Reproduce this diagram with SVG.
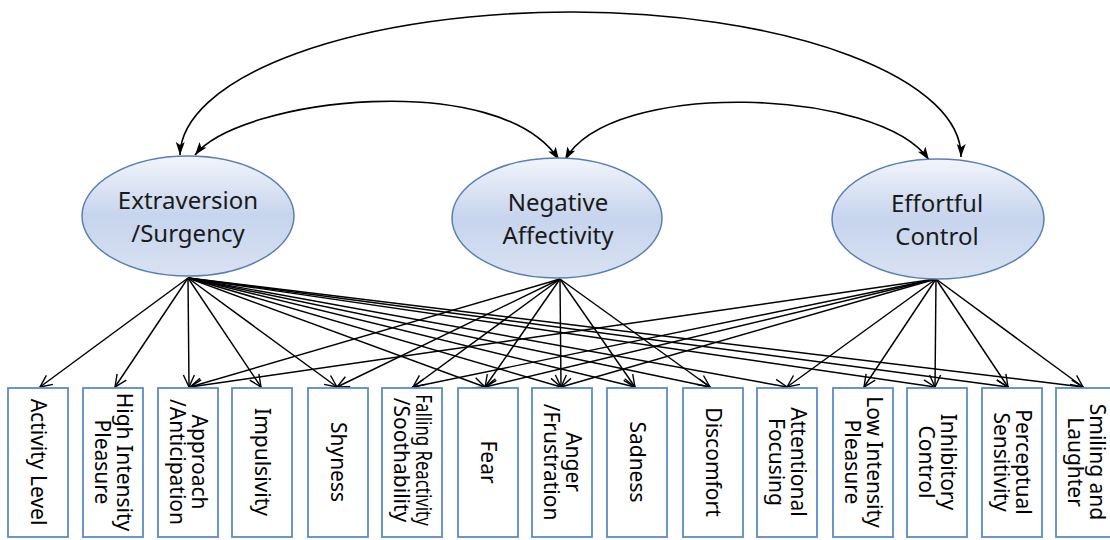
<svg xmlns="http://www.w3.org/2000/svg" width="1110" height="540" viewBox="0 0 1110 540">
<defs>
<linearGradient id="eg" x1="0" y1="0" x2="0" y2="1">
<stop offset="0" stop-color="#f2f5fb"/>
<stop offset="0.5" stop-color="#c6d4ed"/>
<stop offset="1" stop-color="#d9e2f2"/>
</linearGradient>
<marker id="v" viewBox="-1 -7 14 14" refX="12" refY="0" markerWidth="14" markerHeight="14" markerUnits="userSpaceOnUse" orient="auto">
<path d="M0,-5.5 L12,0 L0,5.5" fill="none" stroke="#000" stroke-width="1.4"/>
</marker>
<marker id="f" viewBox="0 -6 14 12" refX="13" refY="0" markerWidth="14" markerHeight="12" markerUnits="userSpaceOnUse" orient="auto-start-reverse">
<path d="M0,-4.5 L13,0 L0,4.5 L3,0 Z" fill="#000"/>
</marker>
</defs>
<style>
.ell{fill:url(#eg);stroke:#5a7fb3;stroke-width:1.5}
.et{font-family:"Noto Sans","Open Sans",sans-serif;font-size:24px;fill:#1a1a1a;text-anchor:middle}
.box{fill:#fff;stroke:#5b8bc9;stroke-width:1.8}
.bt{font-family:"Noto Sans","Open Sans",sans-serif;font-size:21px;fill:#000;text-anchor:middle}
.ln{stroke:#000;stroke-width:1.45;fill:none;marker-end:url(#v)}
.cv{stroke:#000;stroke-width:1.6;fill:none;marker-start:url(#f);marker-end:url(#f)}
</style>
<rect width="1110" height="540" fill="#fff"/>

<g id="connectors">
<path class="cv" d="M180,155 A390.5 144 0 0 1 961,157"/>
<path class="cv" d="M195,155 C240,98 500,68 559,160"/>
<path class="cv" d="M565,160 C610,78 880,88 929,160"/>
<!-- Extraversion/Surgency -->
<line class="ln" x1="188" y1="278" x2="40" y2="387"/>
<line class="ln" x1="188" y1="278" x2="115" y2="387"/>
<line class="ln" x1="188" y1="278" x2="189" y2="387"/>
<line class="ln" x1="188" y1="278" x2="261" y2="387"/>
<line class="ln" x1="188" y1="278" x2="337" y2="387"/>
<line class="ln" x1="188" y1="278" x2="485" y2="387"/>
<line class="ln" x1="188" y1="278" x2="561" y2="387"/>
<line class="ln" x1="188" y1="278" x2="635" y2="387"/>
<line class="ln" x1="188" y1="278" x2="710" y2="387"/>
<line class="ln" x1="188" y1="278" x2="787" y2="387"/>
<line class="ln" x1="188" y1="278" x2="935" y2="387"/>
<line class="ln" x1="188" y1="278" x2="1008" y2="387"/>
<line class="ln" x1="188" y1="278" x2="1083" y2="387"/>
<!-- Negative Affectivity -->
<line class="ln" x1="560" y1="279" x2="190" y2="387"/>
<line class="ln" x1="560" y1="279" x2="337" y2="387"/>
<line class="ln" x1="560" y1="279" x2="413" y2="387"/>
<line class="ln" x1="560" y1="279" x2="485" y2="387"/>
<line class="ln" x1="560" y1="279" x2="561" y2="387"/>
<line class="ln" x1="560" y1="279" x2="635" y2="387"/>
<line class="ln" x1="560" y1="279" x2="710" y2="387"/>
<!-- Effortful Control -->
<line class="ln" x1="936" y1="279" x2="190" y2="387"/>
<line class="ln" x1="936" y1="279" x2="413" y2="387"/>
<line class="ln" x1="936" y1="279" x2="485" y2="387"/>
<line class="ln" x1="936" y1="279" x2="561" y2="387"/>
<line class="ln" x1="936" y1="279" x2="787" y2="387"/>
<line class="ln" x1="936" y1="279" x2="864" y2="387"/>
<line class="ln" x1="936" y1="279" x2="935" y2="387"/>
<line class="ln" x1="936" y1="279" x2="1008" y2="387"/>
<line class="ln" x1="936" y1="279" x2="1083" y2="387"/>
</g>

<g id="extraversion">
<ellipse class="ell" cx="188" cy="216" rx="106" ry="60"/>
<text class="et" x="188" y="209">Extraversion</text>
<text class="et" x="188" y="242">/Surgency</text>
</g>
<g id="negative-affectivity">
<ellipse class="ell" cx="557" cy="218" rx="105" ry="60"/>
<text class="et" x="558" y="211">Negative</text>
<text class="et" x="558" y="244">Affectivity</text>
</g>
<g id="effortful-control">
<ellipse class="ell" cx="938" cy="219" rx="106" ry="60"/>
<text class="et" x="937" y="212">Effortful</text>
<text class="et" x="937" y="245">Control</text>
</g>

<g id="activity-level"><rect class="box" x="8" y="388" width="60" height="149"/>
<text class="bt" transform="translate(38,462) rotate(90)" y="7">Activity Level</text></g>
<g id="high-intensity-pleasure"><rect class="box" x="83" y="388" width="60" height="149"/>
<text class="bt" transform="translate(113,462) rotate(90)"><tspan x="0" y="-4">High Intensity</tspan><tspan x="0" y="18">Pleasure</tspan></text></g>
<g id="approach"><rect class="box" x="158" y="388" width="60" height="149"/>
<text class="bt" transform="translate(188,462) rotate(90)"><tspan x="0" y="-4">Approach</tspan><tspan x="0" y="18">/Anticipation</tspan></text></g>
<g id="impulsivity"><rect class="box" x="232" y="388" width="60" height="149"/>
<text class="bt" transform="translate(262,462) rotate(90)" y="7">Impulsivity</text></g>
<g id="shyness"><rect class="box" x="308" y="388" width="60" height="149"/>
<text class="bt" transform="translate(338,462) rotate(90)" y="7">Shyness</text></g>
<g id="falling-reactivity"><rect class="box" x="382" y="388" width="60" height="149"/>
<text class="bt" transform="translate(412,460) rotate(90) scale(0.8,1)" y="-4">Falling Reactivity</text>
<text class="bt" transform="translate(412,460) rotate(90)" y="18">/Soothability</text></g>
<g id="fear"><rect class="box" x="458" y="388" width="60" height="149"/>
<text class="bt" transform="translate(488,462) rotate(90)" y="7">Fear</text></g>
<g id="anger"><rect class="box" x="532" y="388" width="60" height="149"/>
<text class="bt" transform="translate(562,462) rotate(90)"><tspan x="0" y="-4">Anger</tspan><tspan x="0" y="18">/Frustration</tspan></text></g>
<g id="sadness"><rect class="box" x="607" y="388" width="60" height="149"/>
<text class="bt" transform="translate(637,462) rotate(90)" y="7">Sadness</text></g>
<g id="discomfort"><rect class="box" x="683" y="388" width="60" height="149"/>
<text class="bt" transform="translate(713,462) rotate(90)" y="7">Discomfort</text></g>
<g id="attentional-focusing"><rect class="box" x="757" y="388" width="60" height="149"/>
<text class="bt" transform="translate(787,462) rotate(90)"><tspan x="0" y="-4">Attentional</tspan><tspan x="0" y="18">Focusing</tspan></text></g>
<g id="low-intensity-pleasure"><rect class="box" x="833" y="388" width="60" height="149"/>
<text class="bt" transform="translate(863,462) rotate(90)"><tspan x="0" y="-4">Low Intensity</tspan><tspan x="0" y="18">Pleasure</tspan></text></g>
<g id="inhibitory-control"><rect class="box" x="907" y="388" width="60" height="149"/>
<text class="bt" transform="translate(937,462) rotate(90)"><tspan x="0" y="-4">Inhibitory</tspan><tspan x="0" y="18">Control</tspan></text></g>
<g id="perceptual-sensitivity"><rect class="box" x="982" y="388" width="60" height="149"/>
<text class="bt" transform="translate(1012,462) rotate(90)"><tspan x="0" y="-4">Perceptual</tspan><tspan x="0" y="18">Sensitivity</tspan></text></g>
<g id="smiling-laughter"><rect class="box" x="1056" y="388" width="60" height="149"/>
<text class="bt" transform="translate(1086,462) rotate(90)"><tspan x="0" y="-4">Smiling and</tspan><tspan x="0" y="18">Laughter</tspan></text></g>
</svg>
